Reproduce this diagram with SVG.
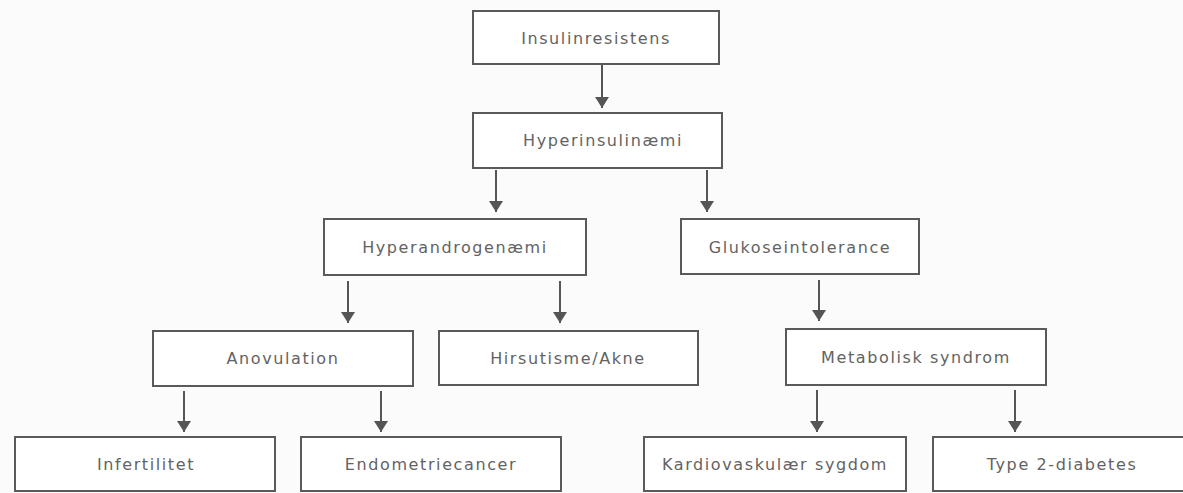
<svg xmlns="http://www.w3.org/2000/svg" width="1183" height="493" viewBox="0 0 1183 493">
<style>
.box{fill:#ffffff;stroke:#5a5a5a;stroke-width:2}
.lbl{font-family:"DejaVu Sans",sans-serif;font-size:16px;fill:#636363;letter-spacing:1.6px;text-anchor:middle;dominant-baseline:central}
.con{stroke:#555;stroke-width:2;fill:none;marker-end:url(#ah)}
</style>
<defs>
<marker id="ah" markerWidth="12" markerHeight="14" refX="11" refY="7" orient="auto" markerUnits="userSpaceOnUse" viewBox="0 0 12 14">
<path d="M0,0 L11,7 L0,14 Z" fill="#555"/>
</marker>
</defs>
<rect width="1183" height="493" fill="#fbfbfb"/>
<g id="connectors">
<path class="con" d="M602,64 V108"/>
<path class="con" d="M496,170 V212"/>
<path class="con" d="M707,170 V212"/>
<path class="con" d="M348,281 V323"/>
<path class="con" d="M560,281 V323"/>
<path class="con" d="M819,280 V321"/>
<path class="con" d="M184,391 V432"/>
<path class="con" d="M381,391 V432"/>
<path class="con" d="M817,390 V432"/>
<path class="con" d="M1015,390 V432"/>
</g>
<g id="n-insulinresistens"><rect class="box" x="473" y="11" width="246" height="53"/><text class="lbl" x="596" y="38">Insulinresistens</text></g>
<g id="n-hyperinsulinaemi"><rect class="box" x="473" y="113" width="249" height="55"/><text class="lbl" x="603" y="140">Hyperinsulinæmi</text></g>
<g id="n-hyperandrogenaemi"><rect class="box" x="324" y="219" width="262" height="56"/><text class="lbl" x="455" y="247">Hyperandrogenæmi</text></g>
<g id="n-glukoseintolerance"><rect class="box" x="681" y="219" width="238" height="55"/><text class="lbl" x="800" y="247">Glukoseintolerance</text></g>
<g id="n-anovulation"><rect class="box" x="153" y="331" width="260" height="55"/><text class="lbl" x="283" y="358">Anovulation</text></g>
<g id="n-hirsutisme"><rect class="box" x="439" y="331" width="259" height="54"/><text class="lbl" x="568" y="358">Hirsutisme/Akne</text></g>
<g id="n-metabolisk"><rect class="box" x="786" y="329" width="260" height="56"/><text class="lbl" x="916" y="357">Metabolisk syndrom</text></g>
<g id="n-infertilitet"><rect class="box" x="15" y="437" width="260" height="54"/><text class="lbl" x="146" y="464">Infertilitet</text></g>
<g id="n-endometriecancer"><rect class="box" x="301" y="437" width="260" height="54"/><text class="lbl" x="431" y="464">Endometriecancer</text></g>
<g id="n-kardiovaskulaer"><rect class="box" x="644" y="437" width="262" height="54"/><text class="lbl" x="775" y="464">Kardiovaskulær sygdom</text></g>
<g id="n-type2"><rect class="box" x="933" y="437" width="260" height="54"/><text class="lbl" x="1062" y="464">Type 2-diabetes</text></g>
</svg>
